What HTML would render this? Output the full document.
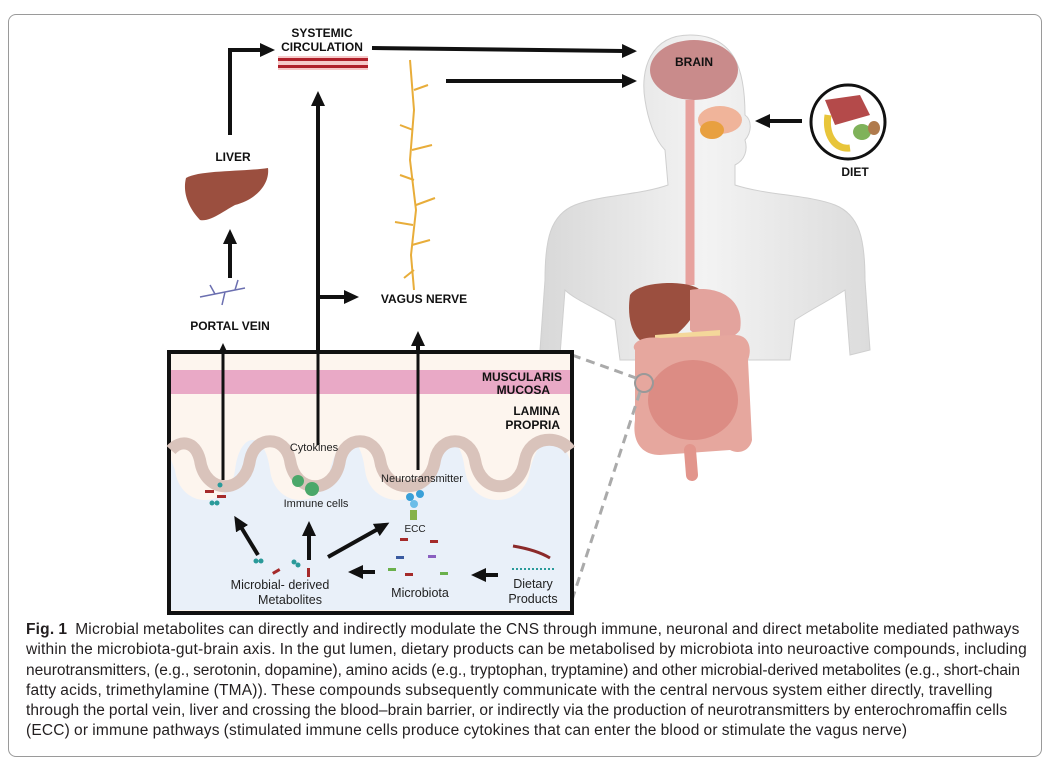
<!DOCTYPE html>
<html><head><meta charset="utf-8"><style>
html,body{margin:0;padding:0;background:#fff;width:1056px;height:775px;overflow:hidden}
.frame{position:absolute;left:8px;top:14px;width:1032px;height:741px;border:1px solid #9a9a9a;border-radius:8px}
.cap{position:absolute;left:26px;top:620px;width:1030px;white-space:nowrap;font-family:"Liberation Sans",sans-serif;font-size:15.5px;line-height:20.3px;color:#231f20;letter-spacing:0.2px;word-spacing:-0.5px}
.cap span{display:block}
svg{position:absolute;left:0;top:0}
text{font-family:"Liberation Sans",sans-serif}
.b{font-weight:bold;font-size:12px;fill:#111}
</style></head><body>
<div class="frame"></div>
<svg width="1056" height="620" viewBox="0 0 1056 620">
<defs>
<marker id="ah" markerWidth="15" markerHeight="14" refX="2" refY="7" orient="auto" markerUnits="userSpaceOnUse"><path d="M0,0 L15,7 L0,14 z" fill="#111"/></marker>
<linearGradient id="skin" x1="0" y1="0" x2="1" y2="0"><stop offset="0" stop-color="#d8d8d8"/><stop offset=".5" stop-color="#f3f3f3"/><stop offset="1" stop-color="#dcdcdc"/></linearGradient>
</defs>
<path d="M690,35 C650,35 640,70 645,100 C648,120 655,140 665,150 L668,185 C640,195 600,195 575,205 C550,215 545,240 545,280 L540,350 L560,355 L565,290 C575,300 600,310 615,320 L620,360 L790,360 L795,320 C810,310 830,300 845,290 L850,355 L870,350 L865,280 C865,240 860,215 835,205 C810,195 765,195 735,185 L735,165 C745,160 748,150 745,140 C752,132 752,120 745,115 C745,70 735,35 690,35 Z" fill="url(#skin)" stroke="#cfcfcf"/>
<ellipse cx="694" cy="70" rx="44" ry="30" fill="#c98b8b"/>
<text x="694" y="66" text-anchor="middle" class="b" font-size="12.5">BRAIN</text>
<ellipse cx="720" cy="120" rx="22" ry="14" fill="#f0b49a"/>
<ellipse cx="712" cy="130" rx="12" ry="9" fill="#e8a040"/>
<path d="M690,100 L690,285" stroke="#e7a29e" stroke-width="9" fill="none"/>
<path d="M630,295 C640,280 690,280 700,290 C705,300 690,330 660,345 C640,350 625,330 630,295Z" fill="#9b4f3f"/>
<path d="M690,290 C720,285 745,300 740,330 C730,345 700,340 690,330Z" fill="#e3a39d"/>
<path d="M655,335 L720,330 L720,350 L655,352Z" fill="#f4d79a"/>
<path d="M635,350 C630,345 640,335 660,338 L735,335 C750,335 752,350 748,360 L752,440 C750,450 740,455 730,450 L660,455 C640,455 632,440 635,420Z" fill="#e6a79e"/>
<ellipse cx="693" cy="400" rx="45" ry="40" fill="#dc8c84"/>
<path d="M690,450 L692,475" stroke="#e2958c" stroke-width="12" stroke-linecap="round"/>
<circle cx="644" cy="383" r="9" fill="none" stroke="#999" stroke-width="2"/>
<path d="M572,355 L636,378" stroke="#aaa" stroke-width="3" stroke-dasharray="9,6"/>
<path d="M572,600 L640,392" stroke="#aaa" stroke-width="3" stroke-dasharray="9,6"/>
<circle cx="848" cy="122" r="37" fill="#fff" stroke="#111" stroke-width="3"/>
<path d="M825,100 L860,95 L870,115 L835,125Z" fill="#b44a4a"/>
<path d="M828,115 C825,135 835,150 850,148" stroke="#e8c53a" stroke-width="7" fill="none"/>
<ellipse cx="862" cy="132" rx="9" ry="8" fill="#7fb25a"/>
<ellipse cx="874" cy="128" rx="6" ry="7" fill="#b07b4d"/>
<text x="855" y="176" text-anchor="middle" class="b">DIET</text>
<line x1="802" y1="121" x2="768" y2="121" stroke="#111" stroke-width="4" marker-end="url(#ah)"/>
<text x="322" y="37" text-anchor="middle" class="b">SYSTEMIC</text>
<text x="322" y="51" text-anchor="middle" class="b">CIRCULATION</text>
<rect x="278" y="56" width="90" height="14" fill="#f6c9c9"/>
<rect x="278" y="58" width="90" height="3" fill="#b0202a"/>
<rect x="278" y="65" width="90" height="3" fill="#b0202a"/>
<line x1="372" y1="48" x2="624" y2="51" stroke="#111" stroke-width="4" marker-end="url(#ah)"/>
<line x1="446" y1="81" x2="624" y2="81" stroke="#111" stroke-width="4" marker-end="url(#ah)"/>
<g stroke="#e8ad3a" stroke-width="2" fill="none">
<path d="M410,60 L414,110 L410,160 L416,210 L411,255 L414,290"/>
<path d="M414,90 L428,85 M413,130 L400,125 M412,150 L432,145 M414,180 L400,175 M416,205 L435,198 M413,225 L395,222 M412,245 L430,240 M414,270 L404,278"/>
</g>
<text x="424" y="303" text-anchor="middle" class="b">VAGUS NERVE</text>
<path d="M230,135 L230,50 L262,50" stroke="#111" stroke-width="4" fill="none" marker-end="url(#ah)"/>
<text x="233" y="161" text-anchor="middle" class="b">LIVER</text>
<path d="M186,178 C200,170 240,172 268,168 C270,185 255,200 235,205 C222,212 210,222 200,220 C186,205 183,190 186,178Z" fill="#9b4f3f"/>
<line x1="230" y1="278" x2="230" y2="242" stroke="#111" stroke-width="4" marker-end="url(#ah)"/>
<g stroke="#6b6fb0" stroke-width="1.5" fill="none"><path d="M200,297 L225,292 L245,288 M215,294 L210,285 M235,290 L238,280 M225,292 L222,305"/></g>
<text x="230" y="330" text-anchor="middle" class="b">PORTAL VEIN</text>
<line x1="318" y1="445" x2="318" y2="104" stroke="#111" stroke-width="4" marker-end="url(#ah)"/>
<line x1="318" y1="297" x2="346" y2="297" stroke="#111" stroke-width="4" marker-end="url(#ah)"/>
<line x1="418" y1="470" x2="418" y2="344" stroke="#111" stroke-width="4" marker-end="url(#ah)"/>
<line x1="223" y1="480" x2="223" y2="356" stroke="#111" stroke-width="4" marker-end="url(#ah)"/>
<rect x="169" y="352" width="403" height="261" fill="#fdf5ee" stroke="#111" stroke-width="4"/>
<rect x="171" y="370" width="399" height="24" fill="#e9a9c6"/>
<path d="M171,460 L171,610 L570,610 L570,460 C560,430 540,430 530,470 C525,510 470,510 465,470 C460,430 440,430 430,470 C425,510 370,510 365,470 C360,430 340,430 330,470 C325,510 275,510 270,470 C265,430 240,430 235,470 C230,510 180,510 175,470Z" fill="#e9f0f9"/>
<path d="M171,450 C180,440 195,440 200,460 C205,495 245,495 250,460 C255,435 285,435 290,460 C295,495 335,495 340,460 C345,435 375,435 380,460 C385,495 430,495 435,460 C440,435 470,435 475,460 C480,495 520,495 525,460 C530,435 560,435 570,450" stroke="#d9c3bb" stroke-width="12" fill="none"/>
<line x1="223" y1="480" x2="223" y2="351" stroke="#111" stroke-width="3"/>
<line x1="318" y1="445" x2="318" y2="351" stroke="#111" stroke-width="3"/>
<line x1="418" y1="470" x2="418" y2="351" stroke="#111" stroke-width="3"/>
<text x="562" y="381" text-anchor="end" class="b">MUSCULARIS</text>
<text x="550" y="394" text-anchor="end" class="b">MUCOSA</text>
<text x="560" y="415" text-anchor="end" class="b">LAMINA</text>
<text x="560" y="429" text-anchor="end" class="b">PROPRIA</text>
<text x="314" y="451" text-anchor="middle" font-size="11" fill="#222">Cytokines</text>
<circle cx="298" cy="481" r="6" fill="#4aa86a"/><circle cx="312" cy="489" r="7" fill="#4aa86a"/>
<text x="316" y="507" text-anchor="middle" font-size="11" fill="#222">Immune cells</text>
<text x="422" y="482" text-anchor="middle" font-size="11" fill="#222">Neurotransmitter</text>
<circle cx="410" cy="497" r="4" fill="#3aa0d8"/><circle cx="420" cy="494" r="4" fill="#3aa0d8"/><circle cx="414" cy="504" r="4" fill="#6bbde8"/>
<rect x="410" y="510" width="7" height="10" fill="#86b24a"/>
<text x="415" y="532" text-anchor="middle" font-size="10" fill="#222">ECC</text>
<line x1="258" y1="555" x2="241" y2="527" stroke="#111" stroke-width="4" marker-end="url(#ah)"/>
<line x1="309" y1="560" x2="309" y2="534" stroke="#111" stroke-width="4" marker-end="url(#ah)"/>
<line x1="328" y1="557" x2="378" y2="529" stroke="#111" stroke-width="4" marker-end="url(#ah)"/>
<line x1="375" y1="572" x2="361" y2="572" stroke="#111" stroke-width="4" marker-end="url(#ah)"/>
<line x1="498" y1="575" x2="484" y2="575" stroke="#111" stroke-width="4" marker-end="url(#ah)"/>
<path d="M513,546 C525,548 540,552 550,558" stroke="#8b2a2a" stroke-width="3" fill="none"/>
<line x1="512" y1="569" x2="556" y2="569" stroke="#2a9a9a" stroke-width="2" stroke-dasharray="2,2"/>
<text x="280" y="589" text-anchor="middle" font-size="12.5" fill="#222">Microbial- derived</text>
<text x="290" y="604" text-anchor="middle" font-size="12.5" fill="#222">Metabolites</text>
<text x="420" y="597" text-anchor="middle" font-size="12.5" fill="#222">Microbiota</text>
<text x="533" y="588" text-anchor="middle" font-size="12.5" fill="#222">Dietary</text>
<text x="533" y="603" text-anchor="middle" font-size="12.5" fill="#222">Products</text>
<g fill="#a52a2a"><rect x="400" y="538" width="8" height="3"/><rect x="430" y="540" width="8" height="3"/><rect x="405" y="573" width="8" height="3"/><rect x="272" y="570" width="8" height="3" transform="rotate(-30 276 571)"/><rect x="307" y="568" width="3" height="9"/><rect x="205" y="490" width="9" height="3"/><rect x="217" y="495" width="9" height="3"/></g>
<g fill="#2a9a9a"><circle cx="256" cy="561" r="2.5"/><circle cx="261" cy="561" r="2.5"/><circle cx="294" cy="562" r="2.5"/><circle cx="298" cy="565" r="2.5"/><circle cx="220" cy="485" r="2.5"/><circle cx="212" cy="503" r="2.5"/><circle cx="217" cy="503" r="2.5"/></g>
<rect x="388" y="568" width="8" height="3" fill="#6ab04c"/><rect x="428" y="555" width="8" height="3" fill="#8a5fc0"/><rect x="440" y="572" width="8" height="3" fill="#6ab04c"/><rect x="396" y="556" width="8" height="3" fill="#3a5aa0"/>
</svg>
<div class="cap"><span><b>Fig. 1</b>&nbsp; Microbial metabolites can directly and indirectly modulate the CNS through immune, neuronal and direct metabolite mediated pathways</span><span>within the microbiota-gut-brain axis. In the gut lumen, dietary products can be metabolised by microbiota into neuroactive compounds, including</span><span style="letter-spacing:-0.03px">neurotransmitters, (e.g., serotonin, dopamine), amino acids (e.g., tryptophan, tryptamine) and other microbial-derived metabolites (e.g., short-chain</span><span>fatty acids, trimethylamine (TMA)). These compounds subsequently communicate with the central nervous system either directly, travelling</span><span style="letter-spacing:0.1px">through the portal vein, liver and crossing the blood–brain barrier, or indirectly via the production of neurotransmitters by enterochromaffin cells</span><span>(ECC) or immune pathways (stimulated immune cells produce cytokines that can enter the blood or stimulate the vagus nerve)</span></div>
</body></html>
